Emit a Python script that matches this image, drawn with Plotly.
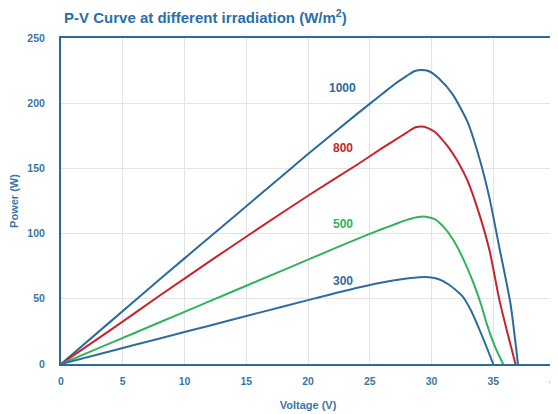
import plotly.graph_objects as go

# Data
v_1000 = [0, 4, 8, 12, 16, 20, 24, 26, 27, 28, 28.6, 29.2, 29.8, 30.6, 31.7, 32.9, 33.9, 34.7, 35.5, 36.4, 37.0]
p_1000 = [0, 32.5, 65, 97, 129, 161, 192, 207, 214.5, 221, 224.5, 225.5, 224.5, 219, 207, 186, 157, 127, 89, 46, 0]

v_800 = [0, 4, 8, 12, 16, 20, 24, 26, 27, 28, 28.7, 29.4, 30.2, 31.3, 32.2, 32.9, 33.9, 34.7, 35.5, 36.2, 36.8]
p_800 = [0, 26, 52.5, 78.5, 104, 129, 153, 165.5, 171.5, 177.5, 181.5, 182, 178.5, 167, 154, 141, 114, 87, 49, 22, 0]

v_500 = [0, 4, 8, 12, 16, 20, 24, 26, 27, 28, 28.8, 29.5, 30.3, 31.0, 31.7, 32.5, 33.4, 34.0, 34.5, 35.2, 35.8]
p_500 = [0, 16, 32, 48, 64, 80, 96, 103.5, 107, 110.5, 112.5, 113, 111, 105, 96, 82, 62, 46, 30, 12, 0]

v_300 = [0, 4, 8, 12, 16, 20, 24, 26, 28, 29.0, 29.8, 30.6, 31.4, 32.5, 33.2, 33.9, 34.5, 35.0]
p_300 = [0, 9.8, 19.6, 29.4, 39.2, 49, 58.5, 62.5, 65.5, 66.5, 66.5, 65, 61, 52, 41, 26, 12, 0]

series_names = ["1000", "800", "500", "300"]
series_colors = ["#2b6b9c", "#c8232c", "#2fb45a", "#2f6c9f"]
label_x = [22.8, 22.8, 22.8, 22.8]
label_y = [212, 166, 107, 64]

xs = [v_1000, v_800, v_500, v_300]
ys = [p_1000, p_800, p_500, p_300]

fig = go.Figure()
for name, x, y, c in zip(series_names, xs, ys, series_colors):
    fig.add_trace(go.Scatter(x=x, y=y, mode="lines", name=name,
                             line=dict(color=c, width=2, shape="spline", smoothing=0.6)))

for name, lx, ly, c in zip(series_names, label_x, label_y, series_colors):
    fig.add_annotation(x=lx, y=ly, text=f"<b>{name}</b>", showarrow=False,
                       font=dict(color=c, size=12, family="Liberation Sans"))

axis_font = dict(color="#3a76a6", size=10.5, family="Liberation Sans")
fig.update_layout(
    width=550, height=406,
    margin=dict(l=53, r=3, t=30, b=50),
    paper_bgcolor="white", plot_bgcolor="white",
    showlegend=False,
    title=dict(text="<b>P-V Curve at different irradiation (W/m<sup>2</sup>)</b>",
               x=0.102, xanchor="left", y=0.975, yanchor="middle",
               font=dict(color="#2a6fa8", size=15, family="Liberation Sans")),
)
fig.update_xaxes(range=[0, 40], dtick=5, showgrid=True, gridcolor="#e3e3e3", gridwidth=1,
                 showline=True, linecolor="#2b6b9c", linewidth=2, mirror=True,
                 zeroline=False, tickfont=axis_font, tickprefix="<b>", ticksuffix="</b>",
                 ticks="", ticklabelstandoff=6, automargin=False, ticklabeloverflow="allow",
                 title=dict(text="<b>Voltage (V)</b>", font=dict(color="#3a76a6", size=11, family="Liberation Sans"), standoff=16))
fig.update_yaxes(range=[0, 250], dtick=50, showgrid=True, gridcolor="#e3e3e3", gridwidth=1,
                 showline=True, linecolor="#2b6b9c", linewidth=2, mirror=True,
                 zeroline=False, tickfont=axis_font, tickprefix="<b>", ticksuffix="</b>",
                 ticks="", ticklabelstandoff=12, automargin=False, ticklabeloverflow="allow",
                 title=dict(text="<b>Power (W)</b>", font=dict(color="#3a76a6", size=11, family="Liberation Sans"), standoff=8))

fig.write_html("out.html")
